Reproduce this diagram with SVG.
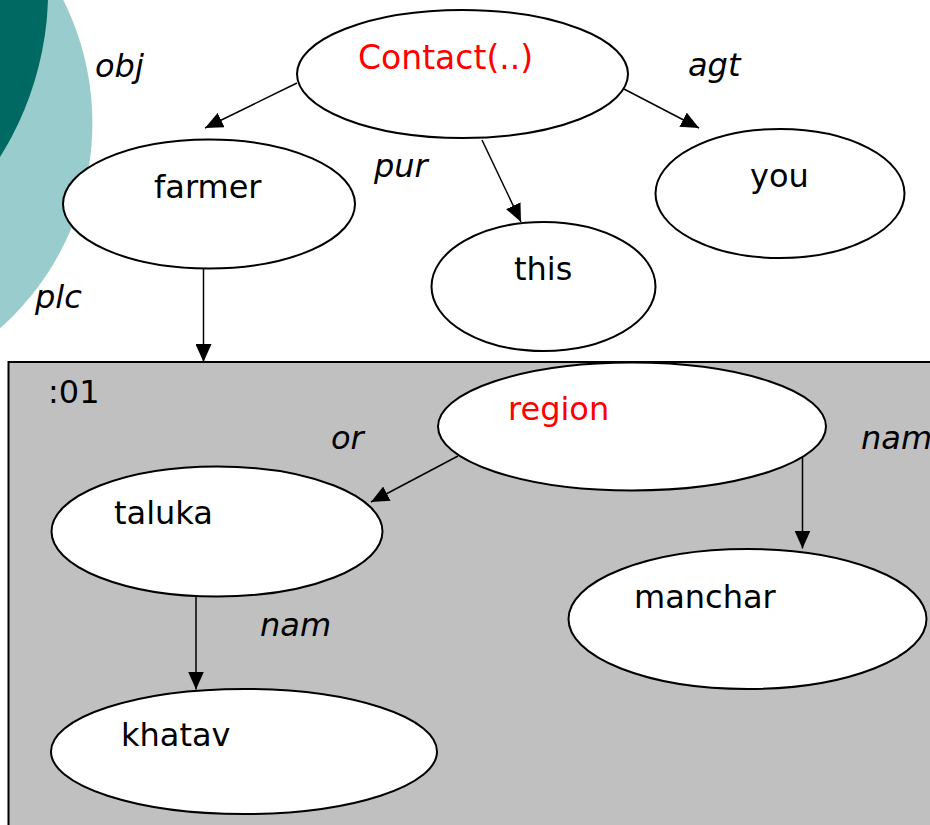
<svg xmlns="http://www.w3.org/2000/svg" width="930" height="825" viewBox="0 0 930 825">
<defs>
<style>
.node ellipse{fill:#fff;stroke:#000;stroke-width:2}
.t{font-family:"DejaVu Sans","Liberation Sans",sans-serif;font-size:32px;fill:#000}
.red{fill:#ff0000}
.big{font-size:33px}
.lbl{font-family:"DejaVu Sans","Liberation Sans",sans-serif;font-size:32px;font-style:italic;fill:#000}
.edge{stroke:#000;stroke-width:1.5;fill:none;marker-end:url(#ah)}
</style>
<marker id="ah" markerUnits="userSpaceOnUse" markerWidth="18" markerHeight="16" refX="18" refY="8" orient="auto" viewBox="0 0 18 16">
<path d="M0,0 L18,8 L0,16 z" fill="#000"/>
</marker>
</defs>
<rect width="930" height="825" fill="#fff"/>
<g id="decoration">
<circle cx="-182" cy="123" r="274.4" fill="#99cccc"/>
<circle cx="-264.7" cy="-9.75" r="312.8" fill="#006a62"/>
</g>
<rect id="box01" x="8.5" y="362" width="940" height="480" fill="#c0c0c0" stroke="#000" stroke-width="2"/>
<text class="t" x="48" y="403">:01</text>
<g id="connectors">
<line class="edge" x1="297" y1="83" x2="205" y2="128"/>
<line class="edge" x1="624" y1="89" x2="699" y2="128"/>
<line class="edge" x1="482" y1="140" x2="521" y2="222"/>
<line class="edge" x1="203.5" y1="268" x2="203.5" y2="362"/>
<line class="edge" x1="458" y1="456" x2="371" y2="502"/>
<line class="edge" x1="802.5" y1="455" x2="802.5" y2="548.5"/>
<line class="edge" x1="196" y1="597" x2="196" y2="689.5"/>
</g>
<g id="labels">
<text class="lbl" x="95" y="77">obj</text>
<text class="lbl" x="688" y="76">agt</text>
<text class="lbl" x="374" y="177">pur</text>
<text class="lbl" x="35" y="308">plc</text>
<text class="lbl" x="331" y="449">or</text>
<text class="lbl" x="861" y="449">nam</text>
<text class="lbl" x="260" y="636">nam</text>
</g>
<g id="n-contact" class="node">
<ellipse cx="462.5" cy="74" rx="165.5" ry="64"/>
<text class="t red big" x="358" y="69">Contact(..)</text>
</g>
<g id="n-farmer" class="node">
<ellipse cx="209" cy="204" rx="146" ry="64.5"/>
<text class="t" x="154" y="198">farmer</text>
</g>
<g id="n-this" class="node">
<ellipse cx="543.5" cy="286.5" rx="112" ry="64.5"/>
<text class="t" x="514" y="280">this</text>
</g>
<g id="n-you" class="node">
<ellipse cx="780" cy="193.5" rx="124.5" ry="64.5"/>
<text class="t" x="750" y="187">you</text>
</g>
<g id="n-region" class="node">
<ellipse cx="632" cy="426.5" rx="194" ry="64"/>
<text class="t red" x="508" y="420">region</text>
</g>
<g id="n-taluka" class="node">
<ellipse cx="217" cy="531.5" rx="165.5" ry="65"/>
<text class="t" x="114" y="524">taluka</text>
</g>
<g id="n-manchar" class="node">
<ellipse cx="747.5" cy="619" rx="179" ry="70"/>
<text class="t" x="634" y="608">manchar</text>
</g>
<g id="n-khatav" class="node">
<ellipse cx="244" cy="751.5" rx="193" ry="62.5"/>
<text class="t" x="121" y="746">khatav</text>
</g>
</svg>
